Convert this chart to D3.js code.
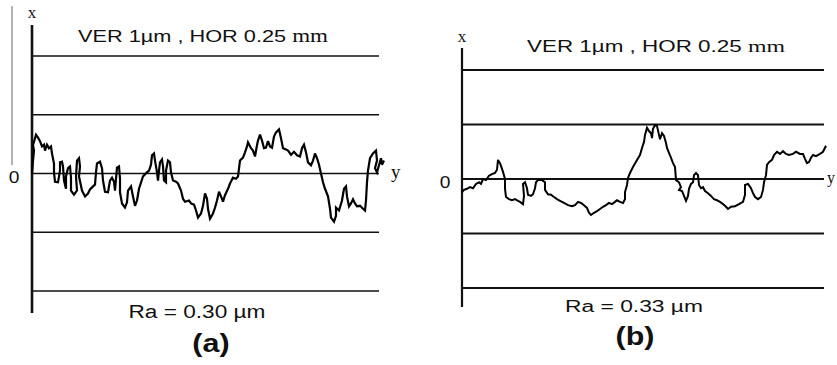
<!DOCTYPE html>
<html>
<head>
<meta charset="utf-8">
<script src="https://cdn.jsdelivr.net/npm/d3@7/dist/d3.min.js"></script>
<style>
  html, body { margin: 0; padding: 0; background: #fff; }
  svg { display: block; }
</style>
</head>
<body>
<svg id="chart" width="837" height="365"></svg>
<script>
// Surface roughness profiles: [position along trace, height in µm]
const profileA = [
  [0,0],[1,0.22],[2,0.39],[1,0.48],[4,0.66],[6,0.61],[8,0.55],[10,0.46],[12,0.49],[13,0.39],
  [15,0.49],[17,0.43],[19,0.46],[20,0.34],[22,0.17],[22,0.02],[23,-0.14],[26,-0.15],[28,0.05],[28,0.19],
  [30,0.20],[31,0.12],[32,-0.12],[34,-0.26],[34,-0.05],[36,0.09],[38,0.12],[39,-0.07],[39,-0.29],[42,-0.36],
  [45,-0.29],[44,-0.05],[45,0.22],[47,0.26],[48,0.12],[47,-0.05],[50,-0.29],[53,-0.39],[56,-0.34],[58,-0.27],
  [61,-0.22],[63,-0.19],[64,0.02],[65,0.17],[68,0.20],[70,0.09],[71,-0.12],[73,-0.31],[76,-0.32],[78,-0.12],
  [80,-0.07],[82,-0.14],[83,-0.29],[84,-0.09],[85,0.10],[87,0.12],[88,-0.09],[88,-0.32],[90,-0.51],[93,-0.58],
  [95,-0.49],[96,-0.29],[99,-0.22],[101,-0.39],[103,-0.55],[105,-0.46],[107,-0.26],[111,-0.05],[115,0.02],[117,0.05],
  [119,0.15],[120,0.31],[122,0.34],[123,0.22],[125,0.02],[126,-0.12],[127,0.05],[128,0.19],[130,0.24],[131,0.12],
  [132,-0.12],[134,-0.15],[134,0.05],[136,0.22],[138,0.19],[139,0.02],[141,-0.12],[144,-0.14],[146,-0.17],[149,-0.29],
  [151,-0.43],[153,-0.48],[157,-0.46],[159,-0.51],[162,-0.53],[164,-0.63],[166,-0.75],[169,-0.68],[171,-0.55],[173,-0.34],
  [175,-0.43],[176,-0.60],[178,-0.77],[181,-0.68],[183,-0.58],[185,-0.46],[187,-0.31],[189,-0.39],[191,-0.48],[193,-0.37],
  [196,-0.26],[198,-0.17],[201,-0.07],[204,-0.09],[206,-0.05],[208,0.22],[211,0.27],[213,0.36],[215,0.46],[216,0.53],
  [219,0.43],[221,0.39],[223,0.29],[225,0.48],[226,0.56],[228,0.66],[230,0.56],[232,0.43],[234,0.44],[236,0.55],
  [238,0.46],[240,0.44],[242,0.63],[244,0.70],[247,0.75],[249,0.60],[251,0.43],[254,0.41],[256,0.39],[259,0.32],
  [262,0.37],[265,0.31],[268,0.29],[270,0.43],[272,0.49],[274,0.36],[276,0.19],[279,0.14],[281,0.22],[283,0.34],
  [285,0.26],[287,0.15],[289,0],[291,-0.15],[293,-0.26],[296,-0.39],[298,-0.60],[299,-0.75],[302,-0.82],[304,-0.72],
  [304,-0.58],[307,-0.63],[310,-0.46],[312,-0.26],[314,-0.22],[315,-0.39],[317,-0.56],[319,-0.51],[321,-0.44],[323,-0.51],
  [325,-0.56],[328,-0.55],[331,-0.60],[333,-0.63],[334,-0.46],[335,-0.15],[336,0.05],[338,0.26],[341,0.34],[344,0.39],
  [345,0.22],[343,0.09],[345,0.02],[347,0.14],[349,0.26],[350,0.15],[352,0.22]
];

const profileB = [
  [0,-0.24],[2,-0.20],[5,-0.18],[8,-0.15],[11,-0.17],[14,-0.09],[17,-0.06],[19,-0.09],[21,0],[24,-0.02],
  [27,0.06],[30,0.09],[33,0.11],[35,0.17],[36,0.35],[38,0.29],[39,0.24],[41,0.13],[43,0],[43,-0.18],
  [44,-0.33],[47,-0.37],[50,-0.39],[53,-0.37],[56,-0.40],[58,-0.42],[61,-0.46],[62,-0.31],[61,-0.09],[63,-0.06],
  [65,-0.17],[66,-0.29],[69,-0.31],[71,-0.28],[73,-0.17],[74,-0.06],[76,-0.02],[80,-0.02],[83,-0.06],[83,-0.20],
  [86,-0.28],[89,-0.29],[92,-0.33],[95,-0.37],[98,-0.40],[102,-0.44],[106,-0.48],[110,-0.50],[113,-0.48],[116,-0.42],
  [119,-0.44],[122,-0.48],[125,-0.53],[127,-0.62],[129,-0.66],[132,-0.62],[135,-0.59],[138,-0.55],[141,-0.51],[144,-0.48],
  [147,-0.44],[150,-0.46],[153,-0.42],[155,-0.39],[158,-0.42],[161,-0.44],[163,-0.37],[163,-0.24],[165,-0.11],[166,0.02],
  [168,0.11],[171,0.22],[175,0.35],[178,0.44],[180,0.57],[182,0.68],[183,0.81],[185,0.94],[187,0.88],[189,0.84],
  [190,0.75],[191,0.92],[193,0.99],[195,0.97],[197,0.81],[198,0.73],[200,0.84],[202,0.79],[204,0.66],[205,0.57],
  [207,0.48],[209,0.39],[211,0.29],[213,0.22],[214,-0.02],[217,-0.06],[219,-0.15],[217,-0.20],[220,-0.22],[222,-0.31],
  [224,-0.40],[226,-0.31],[227,-0.18],[229,-0.09],[231,-0.06],[232,0.07],[234,0.11],[236,0.07],[237,-0.11],[239,-0.17],
  [241,-0.15],[243,-0.22],[246,-0.26],[249,-0.31],[252,-0.37],[255,-0.39],[258,-0.42],[261,-0.46],[264,-0.51],[266,-0.55],
  [269,-0.51],[273,-0.50],[277,-0.46],[281,-0.42],[283,-0.29],[283,-0.11],[286,-0.09],[289,-0.17],[291,-0.26],[293,-0.33],
  [296,-0.37],[299,-0.33],[301,-0.20],[302,-0.06],[304,0.07],[305,0.26],[307,0.31],[310,0.35],[312,0.44],[315,0.50],
  [318,0.46],[321,0.51],[324,0.46],[327,0.44],[331,0.46],[334,0.50],[338,0.46],[341,0.46],[343,0.37],[345,0.29],
  [347,0.31],[349,0.39],[351,0.44],[354,0.42],[358,0.46],[361,0.50],[364,0.61]
];

// Reference lines (µm) and annotations
const gridLevels = [-2, -1, 0, 1, 2];
const scaleNote = "VER 1\u00b5m , HOR 0.25 ";
const scaleUnit = "mm";
const raA = "Ra = 0.30 \u00b5m";
const raB = "Ra = 0.33 \u00b5m";
const panelTags = ["(a)", "(b)"];
const axisNames = ["x", "y", "0"];

const svg = d3.select("#chart");
const SANS = "Arial, 'Liberation Sans', sans-serif";
const SERIF = "'Times New Roman', 'Liberation Serif', serif";

function stretchedText(g, str, x, y, opts) {
  return g.append("text")
    .attr("transform", `translate(${x},${y}) scale(${opts.sx || 1},1)`)
    .attr("text-anchor", opts.anchor || "middle")
    .attr("font-family", opts.family || SANS)
    .attr("font-size", opts.size)
    .attr("font-weight", opts.weight || "normal")
    .attr("fill", "#111")
    .text(str);
}

function drawPanel(cfg) {
  const g = svg.append("g");
  const x = d3.scaleLinear().domain(cfg.xDomain).range([cfg.left, cfg.right]);
  const y = d3.scaleLinear().domain([-2, 2]).range([cfg.bottom, cfg.top]);

  // horizontal reference lines
  g.selectAll("line.grid").data(gridLevels).enter().append("line")
    .attr("class", "grid")
    .attr("x1", x(cfg.xDomain[0])).attr("x2", x(cfg.xDomain[1]))
    .attr("y1", d => y(d)).attr("y2", d => y(d))
    .attr("stroke", "#111").attr("stroke-width", cfg.gridW);

  // vertical axis
  g.append("line")
    .attr("x1", cfg.left).attr("x2", cfg.left)
    .attr("y1", cfg.axisTop).attr("y2", cfg.axisBottom)
    .attr("stroke", "#111").attr("stroke-width", cfg.axisW);

  // profile trace
  const line = d3.line().x(d => x(d[0])).y(d => y(d[1]));
  g.append("path")
    .datum(cfg.data)
    .attr("d", line)
    .attr("fill", "none")
    .attr("stroke", "#000")
    .attr("stroke-width", cfg.traceW)
    .attr("stroke-linejoin", "miter")
    .attr("stroke-miterlimit", 3);

  // axis names
  stretchedText(g, axisNames[0], cfg.left, cfg.xLabelY, { size: 17, family: SERIF });
  stretchedText(g, axisNames[2], cfg.zeroX, y(0) + 9, { size: 16, family: SANS, sx: 1.2 });
  stretchedText(g, axisNames[1], cfg.yLabelX, y(0) + 4, { size: cfg.ySize, family: SERIF, anchor: "start" });

  // scale note
  const note = g.append("text")
    .attr("x", cfg.noteX).attr("y", cfg.noteY)
    .attr("text-anchor", "middle")
    .attr("font-family", SANS).attr("font-size", cfg.noteSize)
    .attr("fill", "#111")
    .attr("textLength", cfg.noteW).attr("lengthAdjust", "spacingAndGlyphs");
  note.append("tspan").text(scaleNote);
  note.append("tspan").attr("font-family", SERIF).attr("font-size", cfg.noteSize + 1).text(scaleUnit);

  // roughness value
  g.append("text")
    .attr("x", cfg.raX).attr("y", cfg.raY)
    .attr("text-anchor", "middle")
    .attr("font-family", SANS).attr("font-size", cfg.raSize)
    .attr("fill", "#111")
    .attr("textLength", cfg.raW).attr("lengthAdjust", "spacingAndGlyphs")
    .text(cfg.ra);

  // panel tag
  stretchedText(g, cfg.tag, cfg.tagX, cfg.tagY, { size: 25, weight: "bold", sx: 1.22 });
}

// faint guide line at the far left
svg.append("line")
  .attr("x1", 12).attr("x2", 12).attr("y1", 6).attr("y2", 165)
  .attr("stroke", "#666").attr("stroke-width", 1);

drawPanel({
  data: profileA, xDomain: [0, 347], left: 32, right: 379, top: 56, bottom: 291,
  axisTop: 25, axisBottom: 313, axisW: 2.6, gridW: 1.6, traceW: 2.2,
  xLabelY: 18, zeroX: 14, yLabelX: 391, ySize: 19,
  noteX: 203, noteY: 42, noteSize: 17, noteW: 250,
  ra: raA, raX: 197, raY: 318, raSize: 18, raW: 137,
  tag: panelTags[0], tagX: 211, tagY: 352
});

drawPanel({
  data: profileB, xDomain: [0, 362], left: 462, right: 824, top: 70, bottom: 288,
  axisTop: 48, axisBottom: 307, axisW: 2.2, gridW: 1.8, traceW: 2,
  xLabelY: 42, zeroX: 445, yLabelX: 827, ySize: 16,
  noteX: 656, noteY: 52, noteSize: 16, noteW: 258,
  ra: raB, raX: 634, raY: 312, raSize: 16, raW: 138,
  tag: panelTags[1], tagX: 635, tagY: 345
});
</script>
</body>
</html>
